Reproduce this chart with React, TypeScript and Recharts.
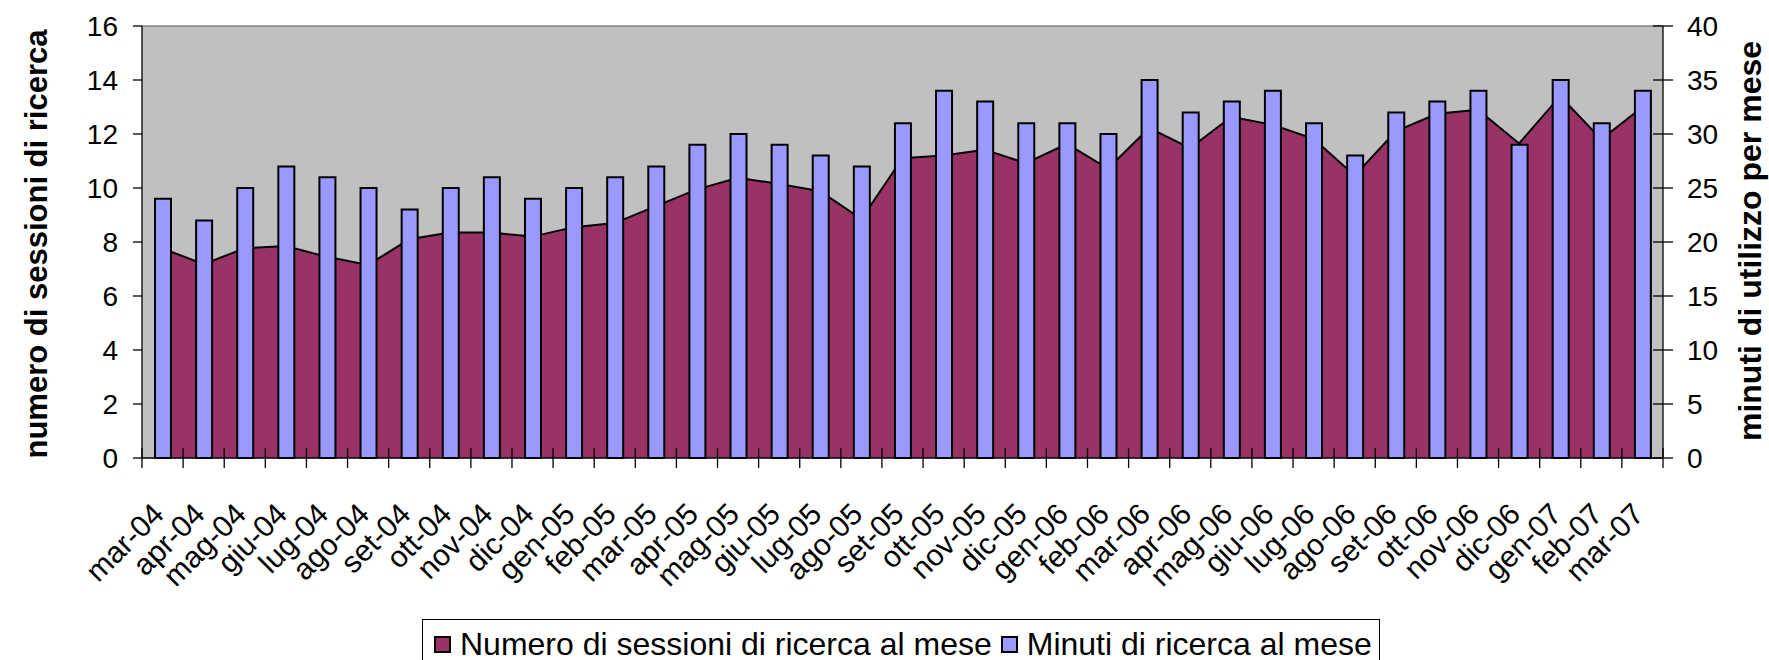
import React from 'react'
import {
  ComposedChart,
  Area,
  Bar,
  XAxis,
  YAxis,
  CartesianGrid,
  ReferenceLine,
  Legend,
  Label,
} from 'recharts'

// categories (months, Italian abbreviations)
const months = [
  'mar-04', 'apr-04', 'mag-04', 'giu-04', 'lug-04', 'ago-04', 'set-04', 'ott-04', 'nov-04', 'dic-04',
  'gen-05', 'feb-05', 'mar-05', 'apr-05', 'mag-05', 'giu-05', 'lug-05', 'ago-05', 'set-05', 'ott-05',
  'nov-05', 'dic-05', 'gen-06', 'feb-06', 'mar-06', 'apr-06', 'mag-06', 'giu-06', 'lug-06', 'ago-06',
  'set-06', 'ott-06', 'nov-06', 'dic-06', 'gen-07', 'feb-07', 'mar-07',
]

// numero di sessioni di ricerca al mese (left axis)
const sessions = [
  7.76, 7.18, 7.77, 7.85, 7.45, 7.15, 8.1, 8.35, 8.35, 8.2,
  8.55, 8.7, 9.33, 9.95, 10.38, 10.15, 9.88, 8.85, 11.1, 11.2,
  11.42, 10.92, 11.63, 10.72, 12.22, 11.48, 12.64, 12.34, 11.82, 10.46,
  12.1, 12.75, 12.9, 11.65, 13.4, 11.8, 13.0,
]

// minuti di ricerca al mese (right axis)
const minutes = [
  24, 22, 25, 27, 26, 25, 23, 25, 26, 24,
  25, 26, 27, 29, 30, 29, 28, 27, 31, 34,
  33, 31, 31, 30, 35, 32, 33, 34, 31, 28,
  32, 33, 34, 29, 35, 31, 34,
]

const leftTicks = [0, 2, 4, 6, 8, 10, 12, 14, 16]
const rightTicks = [0, 5, 10, 15, 20, 25, 30, 35, 40]

const seriesNames = ['Numero di sessioni di ricerca al mese', 'Minuti di ricerca al mese']
const seriesColors = ['#993366', '#9999FF']

const data = months.map((m, i) => ({ month: m, sessions: sessions[i], minutes: minutes[i] }))

const FONT = '"Liberation Sans", Arial, sans-serif'
const W = 1769
const H = 660
const PLOT_LEFT = 142
const PLOT_RIGHT = 1663
const BAND = (PLOT_RIGHT - PLOT_LEFT) / months.length

function XTick(props: any) {
  const { x, y, payload, index } = props
  const last = index === months.length - 1
  return (
    <g>
      <line x1={x - BAND / 2} x2={x - BAND / 2} y1={y - 10} y2={y + 10} stroke="#000" strokeWidth={1.3} />
      {last && <line x1={x + BAND / 2} x2={x + BAND / 2} y1={y - 10} y2={y + 10} stroke="#000" strokeWidth={1.3} />}
      <text
        transform={`translate(${x + 3},${y + 58}) rotate(-45)`}
        textAnchor="end"
        fontSize={30}
        fontFamily={FONT}
        fill="#000"
      >
        {payload.value}
      </text>
    </g>
  )
}

function RightTick(props: any) {
  const { x, y, payload } = props
  const axisX = x - 24
  return (
    <g>
      <line x1={axisX - 10} x2={axisX} y1={y} y2={y} stroke="#000" strokeWidth={1.3} />
      <text x={x} y={y} dy="0.355em" textAnchor="start" fontSize={28} fontFamily={FONT} fill="#000">
        {payload.value}
      </text>
    </g>
  )
}

function renderLegend() {
  return (
    <div
      style={{
        boxSizing: 'border-box',
        width: 958,
        height: 41,
        border: '1px solid #000',
        borderBottom: 'none',
        display: 'flex',
        alignItems: 'center',
        paddingLeft: 11,
        paddingTop: 9,
        fontFamily: FONT,
        fontSize: 32,
        color: '#000',
        background: '#fff',
        whiteSpace: 'nowrap',
      }}
    >
      {seriesNames.map((name, i) => (
        <span key={name} style={{ display: 'flex', alignItems: 'center', marginRight: 9 }}>
          <span
            style={{
              display: 'inline-block',
              boxSizing: 'border-box',
              width: 17,
              height: 17,
              background: seriesColors[i],
              border: '2px solid #000',
              marginRight: 9,
            }}
          />
          <span>{name}</span>
        </span>
      ))}
    </div>
  )
}

export default function App() {
  return (
    <div style={{ position: 'absolute', left: 0, top: 0, background: '#fff' }}>
      <ComposedChart width={W} height={H} data={data} margin={{ top: 26, right: 0, left: 0, bottom: 0 }}>
        <CartesianGrid yAxisId="left" horizontal={false} vertical={false} fill="#C0C0C0" fillOpacity={1} />
        <XAxis
          dataKey="month"
          height={161}
          interval={0}
          tickLine={false}
          tickSize={0}
          tickMargin={0}
          axisLine={{ stroke: '#000', strokeWidth: 1.5 }}
          tick={<XTick />}
        />
        <YAxis
          yAxisId="left"
          width={142}
          domain={[0, 16]}
          ticks={leftTicks}
          tickSize={9}
          tickMargin={15}
          axisLine={{ stroke: '#000', strokeWidth: 1.3 }}
          tickLine={{ stroke: '#000', strokeWidth: 1.3 }}
          tick={{ fontSize: 28, fontFamily: FONT, fill: '#000' }}
        >
          <Label
            content={() => (
              <text
                transform="translate(47,244) rotate(-90)"
                textAnchor="middle"
                fontSize={31}
                fontWeight="bold"
                fontFamily={FONT}
                fill="#000"
              >
                numero di sessioni di ricerca
              </text>
            )}
          />
        </YAxis>
        <YAxis
          yAxisId="right"
          orientation="right"
          width={106}
          domain={[0, 40]}
          ticks={rightTicks}
          tickSize={10}
          tickMargin={14}
          axisLine={{ stroke: '#000', strokeWidth: 1.3 }}
          tickLine={{ stroke: '#000', strokeWidth: 1.3 }}
          tick={<RightTick />}
        >
          <Label
            content={() => (
              <text
                transform="translate(1761,241) rotate(-90)"
                textAnchor="middle"
                fontSize={32}
                fontWeight="bold"
                fontFamily={FONT}
                fill="#000"
              >
                minuti di utilizzo per mese
              </text>
            )}
          />
        </YAxis>
        <ReferenceLine yAxisId="left" y={16} stroke="#808080" strokeWidth={1.5} />
        <Area
          yAxisId="left"
          type="linear"
          dataKey="sessions"
          name={seriesNames[0]}
          fill={seriesColors[0]}
          fillOpacity={1}
          stroke="#000"
          strokeWidth={2}
          isAnimationActive={false}
        />
        <Bar
          yAxisId="right"
          dataKey="minutes"
          name={seriesNames[1]}
          barSize={16}
          fill={seriesColors[1]}
          stroke="#000"
          strokeWidth={2}
          isAnimationActive={false}
        />
        <Legend
          verticalAlign="bottom"
          align="left"
          wrapperStyle={{ left: 422, bottom: 0 }}
          content={renderLegend}
        />
      </ComposedChart>
    </div>
  )
}
